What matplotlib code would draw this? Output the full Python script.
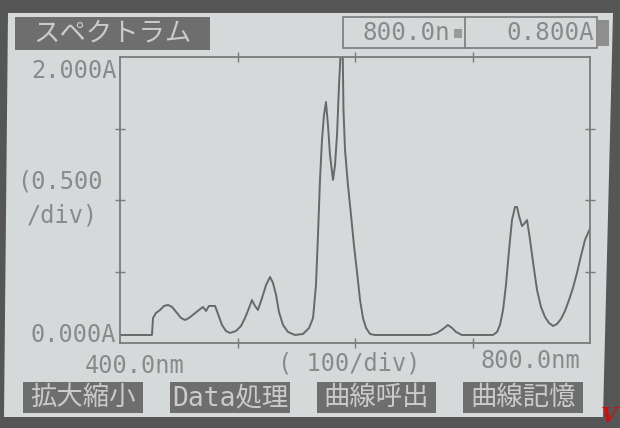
import matplotlib
matplotlib.use("Agg")
import matplotlib.pyplot as plt
from matplotlib.patches import Polygon, Rectangle

# Absorption spectrum as shown on the instrument display
wavelength_nm = [
    400.0, 427.2, 428.1, 430.6, 434.0, 437.4, 440.9, 444.3, 448.5, 451.9,
    455.3, 458.7, 463.0, 467.2, 470.6, 473.2, 475.7, 480.9, 483.4, 486.8,
    490.2, 493.6, 498.7, 503.0, 506.4, 509.8, 512.3, 514.9, 517.4, 520.9,
    524.3, 527.7, 530.2, 532.8, 535.3, 538.7, 543.0, 549.0, 555.7, 560.9,
    564.3, 566.8, 568.5, 570.2, 571.9, 573.6, 575.3, 577.0, 578.7, 581.3,
    583.0, 584.7, 586.4, 588.1, 589.4, 590.2, 591.5, 594.0, 596.6, 599.1,
    601.7, 604.3, 606.8, 609.4, 612.8, 617.0, 663.8, 669.8, 674.9, 679.1,
    682.6, 686.0, 691.0, 717.4, 720.9, 723.4, 726.0, 728.5, 731.1, 733.6,
    736.2, 737.9, 739.6, 742.1, 743.8, 746.4, 749.0, 751.5, 754.9, 758.3,
    761.7, 765.1, 768.5, 771.9, 775.3, 778.7, 782.1, 785.5, 788.9, 792.3,
    795.7, 800.0,
]
absorbance = [
    0.056, 0.056, 0.175, 0.210, 0.230, 0.259, 0.266, 0.252, 0.210, 0.175,
    0.161, 0.175, 0.203, 0.231, 0.252, 0.224, 0.259, 0.259, 0.203, 0.126,
    0.084, 0.070, 0.084, 0.119, 0.175, 0.245, 0.300, 0.259, 0.231, 0.315,
    0.406, 0.462, 0.420, 0.336, 0.217, 0.126, 0.077, 0.056, 0.063, 0.105,
    0.175, 0.406, 0.755, 1.140, 1.420, 1.594, 1.685, 1.524, 1.315, 1.140,
    1.245, 1.455, 1.804, 2.080, 2.120, 1.630, 1.350, 1.105, 0.895, 0.685,
    0.497, 0.300, 0.175, 0.105, 0.063, 0.056, 0.056, 0.070, 0.098, 0.126,
    0.105, 0.077, 0.056, 0.056, 0.077, 0.126, 0.231, 0.406, 0.650, 0.860,
    0.951, 0.951, 0.888, 0.818, 0.832, 0.860, 0.720, 0.566, 0.371, 0.252,
    0.182, 0.140, 0.119, 0.133, 0.168, 0.224, 0.300, 0.385, 0.490, 0.608,
    0.720, 0.800,
]

x_range = (400.0, 800.0)
y_range = (0.0, 2.0)
x_ticks = [500, 600, 700]
y_ticks = [0.5, 1.0, 1.5]

title_text = "スペクトラム"
cursor_wavelength = "800.0n"
cursor_value = "0.800A"
y_top_label = "2.000A"
y_bottom_label = "0.000A"
y_scale_label = ["(0.500", "/div)"]
x_left_label = "400.0nm"
x_scale_label = "( 100/div)"
x_right_label = "800.0nm"
menu_buttons = ["拡大縮小", "Data処理", "曲線呼出", "曲線記憶"]

W, H = 620, 428
BEZEL = "#565656"
SCREEN = "#d6d9da"
INK = "#7a7a7a"
TEXT = "#8a8a8a"
BOX = "#6e6e6e"
BOX_TEXT = "#cbcbcb"
MONO = ["DejaVu Sans Mono", "Noto Sans CJK JP"]
CJK = ["Noto Sans CJK JP", "DejaVu Sans"]

fig = plt.figure(figsize=(W / 100, H / 100), dpi=100, facecolor=BEZEL)


def fx(px):
    return px / W


def fy(py):
    return 1 - py / H


def ptext(px, py, s, **kw):
    fig.text(fx(px), fy(py), s, **kw)


def prect(x0, y0, x1, y1, **kw):
    fig.patches.append(Rectangle((fx(x0), fy(y1)), fx(x1) - fx(x0), fy(y0) - fy(y1),
                                 transform=fig.transFigure, **kw))


# LCD panel
fig.patches.append(Polygon([(fx(8), fy(13)), (fx(613), fy(13)), (fx(603), fy(417)), (fx(4), fy(417))],
                           closed=True, transform=fig.transFigure, facecolor=SCREEN,
                           edgecolor="none", zorder=-5))

# Header: title tab and cursor readout
prect(15, 17, 210, 50, facecolor=BOX, edgecolor="none")
ptext(112, 34, title_text, family=CJK, fontsize=19, color=BOX_TEXT, ha="center", va="center")
prect(343, 17, 597, 48, facecolor="none", edgecolor=INK, lw=1.2)
fig.lines.append(plt.Line2D([fx(465), fx(465)], [fy(17), fy(48)], transform=fig.transFigure,
                            color=INK, lw=1.2))
ptext(450, 33, cursor_wavelength, family=MONO, fontsize=17.5, color=TEXT, ha="right", va="center")
prect(454, 29, 462, 38, facecolor="#9a9a9a", edgecolor="none")
ptext(594, 33, cursor_value, family=MONO, fontsize=17.5, color=TEXT, ha="right", va="center")
prect(597, 20, 609, 46, facecolor="#8e8e8e", edgecolor="none")

# Spectrum plot
ax = fig.add_axes([fx(120), fy(343), fx(590) - fx(120), fy(57) - fy(343)])
ax.set_zorder(3)
ax.set_facecolor("none")
ax.plot(wavelength_nm, absorbance, color="#686868", lw=1.4, solid_joinstyle="round")
ax.set_xlim(*x_range)
ax.set_ylim(*y_range)
ax.set_xticks(x_ticks)
ax.set_yticks(y_ticks)
ax.tick_params(axis="both", which="both", direction="inout", length=7, width=1.0, color=INK,
               top=True, right=True, labelbottom=False, labelleft=False)
for sp in ax.spines.values():
    sp.set_color(INK)
    sp.set_linewidth(1.3)

# Axis annotations
ptext(117, 71, y_top_label, family=MONO, fontsize=17, color=TEXT, ha="right", va="center")
ptext(17, 182, y_scale_label[0], family=MONO, fontsize=17, color=TEXT, ha="left", va="center")
ptext(27, 215, y_scale_label[1], family=MONO, fontsize=17, color=TEXT, ha="left", va="center")
ptext(116, 335, y_bottom_label, family=MONO, fontsize=17, color=TEXT, ha="right", va="center")
ptext(85, 366, x_left_label, family=MONO, fontsize=17, color=TEXT, ha="left", va="center")
ptext(349, 364, x_scale_label, family=MONO, fontsize=17, color=TEXT, ha="center", va="center")
ptext(580, 361, x_right_label, family=MONO, fontsize=17, color=TEXT, ha="right", va="center")

# Soft-key menu
button_x = [(23, 143), (170, 290), (317, 436), (463, 583)]
for (x0, x1), label in zip(button_x, menu_buttons):
    prect(x0, 382, x1, 413, facecolor=BOX, edgecolor="none")
    ptext((x0 + x1) / 2, 398, label, family=MONO, fontsize=19, color=BOX_TEXT,
          ha="center", va="center")

ptext(617, 426, "V", family="DejaVu Serif", fontsize=15, color="#d01010",
      ha="right", va="bottom", style="italic", fontweight="bold")

fig.savefig("out.png", dpi=100, facecolor=BEZEL)
